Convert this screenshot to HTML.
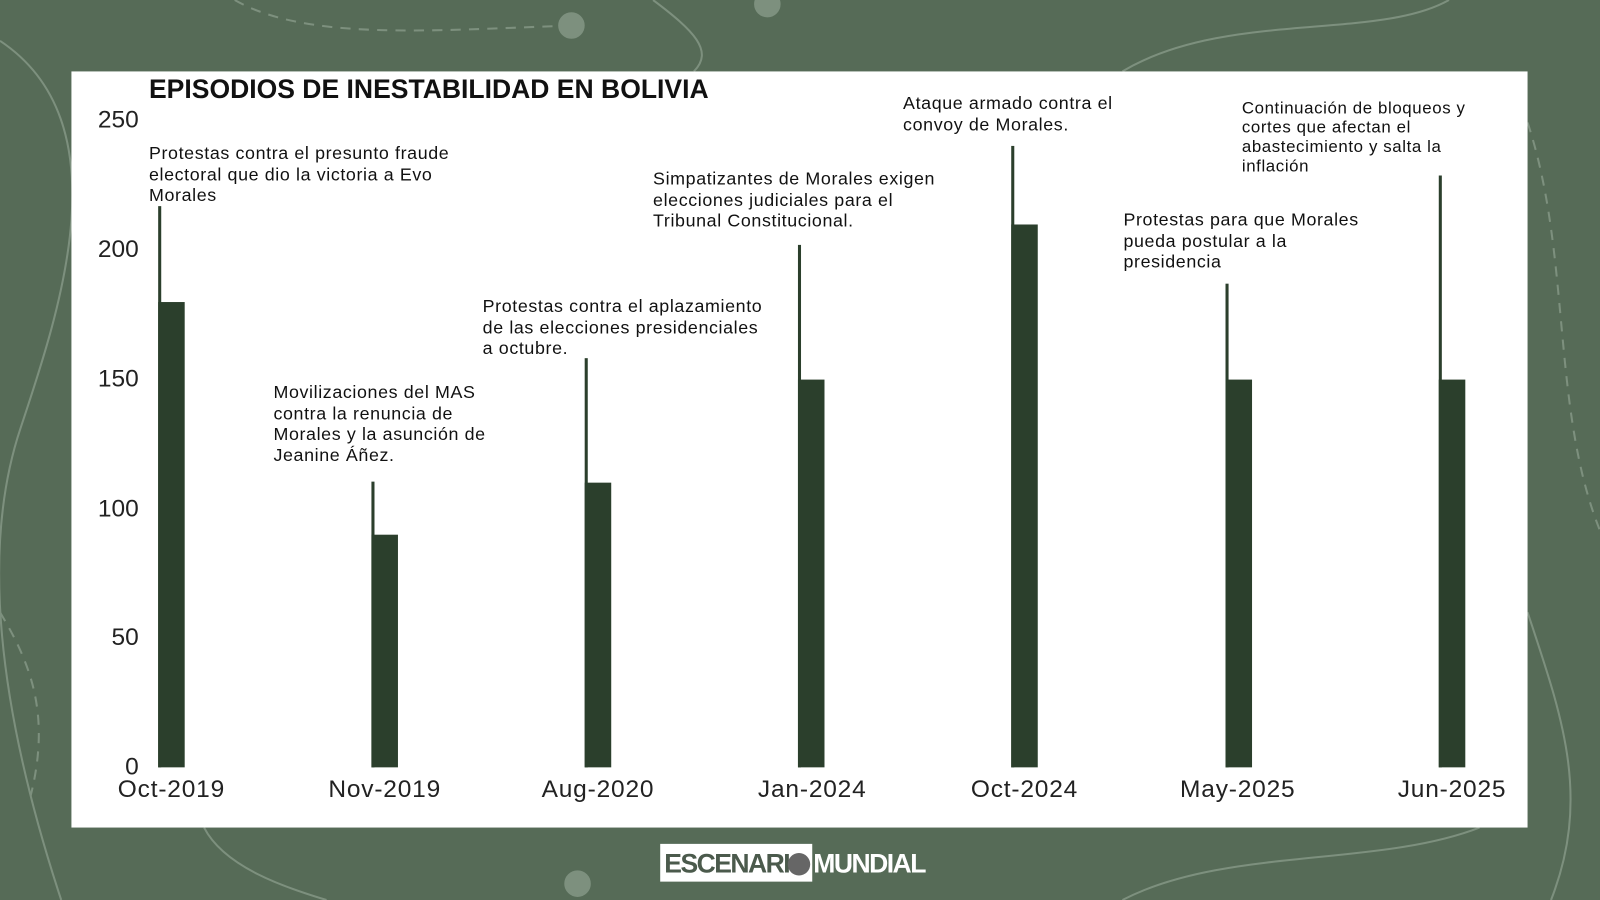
<!DOCTYPE html>
<html><head><meta charset="utf-8"><style>
html,body{margin:0;padding:0;width:1600px;height:900px;overflow:hidden;background:#566b57;}
#w{position:absolute;left:0;top:0;width:1568px;height:882px;transform:scale(1.020408);transform-origin:0 0;font-family:"Liberation Sans",sans-serif;}
.panel{position:absolute;left:70px;top:70px;width:1427px;height:741px;background:#fff;}
.bar{position:absolute;width:26px;background:#2b3f2c;}
.ln{position:absolute;width:3px;background:#2b3f2c;}
.t{position:absolute;font-size:17.5px;line-height:20.5px;color:#111;letter-spacing:0.6px;}
.yl{position:absolute;font-size:24px;color:#222;text-align:right;width:60px;}
.xl{position:absolute;font-size:24px;color:#222;width:160px;text-align:center;top:760px;letter-spacing:0.8px;}
</style></head><body><div id="w">
<svg width="1568" height="882" style="position:absolute;left:0;top:0" fill="none" stroke="#7d907e" stroke-width="2">
<path d="M0 40 C120 120 60 300 20 420 S 0 700 60 882"/>
<path d="M230 0 C300 40 420 30 560 25" stroke-dasharray="10 8"/>
<circle cx="560" cy="25" r="12" fill="#7d907e"/>
<circle cx="752" cy="4" r="12" fill="#7d907e"/>
<circle cx="566" cy="866" r="12" fill="#7d907e"/>
<path d="M640 0 C680 30 700 50 680 70"/>
<path d="M1100 70 C1200 10 1350 40 1420 0"/>
<path d="M1497 120 C1540 250 1520 400 1568 520" stroke-dasharray="10 8"/>
<path d="M1497 600 C1530 700 1560 780 1520 882"/>
<path d="M0 600 C30 650 50 700 30 780" stroke-dasharray="10 8"/>
<path d="M200 811 C220 850 280 870 320 882"/>
<path d="M1100 882 C1200 830 1350 850 1450 811"/>
</svg>
<div class="panel"></div>
<div style="position:absolute;left:146px;top:72px;font-size:26px;font-weight:bold;color:#111;">EPISODIOS DE INESTABILIDAD EN BOLIVIA</div>
<div class="yl" style="left:76px;top:104px">250</div>
<div class="yl" style="left:76px;top:231px">200</div>
<div class="yl" style="left:76px;top:358px">150</div>
<div class="yl" style="left:76px;top:485px">100</div>
<div class="yl" style="left:76px;top:611px">50</div>
<div class="yl" style="left:76px;top:738px">0</div>

<div class="ln" style="left:155px;top:202px;height:550px"></div><div class="bar" style="left:155px;top:296px;height:456px"></div>
<div class="ln" style="left:364px;top:472px;height:280px"></div><div class="bar" style="left:364px;top:524px;height:228px"></div>
<div class="ln" style="left:573px;top:351px;height:401px"></div><div class="bar" style="left:573px;top:473px;height:279px"></div>
<div class="ln" style="left:782px;top:240px;height:512px"></div><div class="bar" style="left:782px;top:372px;height:380px"></div>
<div class="ln" style="left:991px;top:143px;height:609px"></div><div class="bar" style="left:991px;top:220px;height:532px"></div>
<div class="ln" style="left:1201px;top:278px;height:474px"></div><div class="bar" style="left:1201px;top:372px;height:380px"></div>
<div class="ln" style="left:1410px;top:172px;height:580px"></div><div class="bar" style="left:1410px;top:372px;height:380px"></div>

<div class="xl" style="left:88px">Oct-2019</div>
<div class="xl" style="left:297px">Nov-2019</div>
<div class="xl" style="left:506px">Aug-2020</div>
<div class="xl" style="left:716px">Jan-2024</div>
<div class="xl" style="left:924px">Oct-2024</div>
<div class="xl" style="left:1133px">May-2025</div>
<div class="xl" style="left:1343px">Jun-2025</div>

<div class="t" style="left:146px;top:140px">Protestas contra el presunto fraude<br>electoral que dio la victoria a Evo<br>Morales</div>
<div class="t" style="left:268px;top:374px">Movilizaciones del MAS<br>contra la renuncia de<br>Morales y la asunción de<br>Jeanine Áñez.</div>
<div class="t" style="left:473px;top:290px">Protestas contra el aplazamiento<br>de las elecciones presidenciales<br>a octubre.</div>
<div class="t" style="left:640px;top:165px">Simpatizantes de Morales exigen<br>elecciones judiciales para el<br>Tribunal Constitucional.</div>
<div class="t" style="left:885px;top:91px">Ataque armado contra el<br>convoy de Morales.</div>
<div class="t" style="left:1101px;top:205px">Protestas para que Morales<br>pueda postular a la<br>presidencia</div>
<div class="t" style="left:1217px;top:97px;line-height:19px;font-size:16.5px">Continuación de bloqueos y<br>cortes que afectan el<br>abastecimiento y salta la<br>inflación</div>

<div style="position:absolute;left:647px;top:827px;width:149px;height:37px;background:#fff;"></div>
<div style="position:absolute;left:651px;top:831px;font-size:26px;font-weight:bold;color:#4b5a4c;letter-spacing:-1.5px;">ESCENARI</div>
<div style="position:absolute;left:772px;top:836px;width:22px;height:22px;border-radius:50%;background:#666;"></div>
<div style="position:absolute;left:797px;top:831px;font-size:26px;font-weight:bold;color:#fff;letter-spacing:-1.5px;">MUNDIAL</div>
</div></body></html>
